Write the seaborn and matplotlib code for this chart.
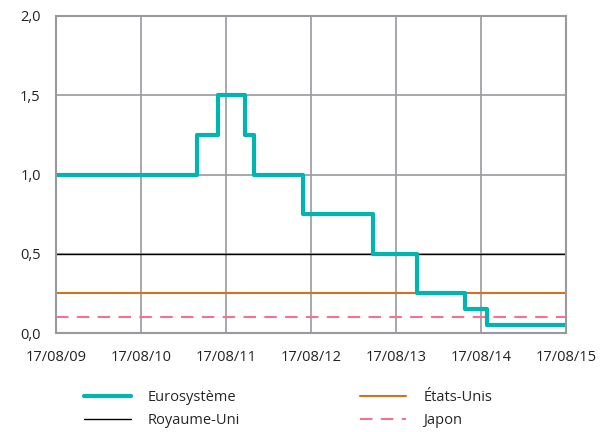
"""
Taux directeurs : Eurosystème, Royaume-Uni, États-Unis, Japon
"""

import matplotlib
matplotlib.use("Agg")
import matplotlib.pyplot as plt
import matplotlib.dates as mdates
from matplotlib.ticker import FuncFormatter, MultipleLocator
import pandas as pd
import seaborn as sns

# ==========================================================
# Data
# ==========================================================

euro_dates = [
    "2009-08-17", "2011-04-13", "2011-07-13", "2011-11-09", "2011-12-14",
    "2012-07-11", "2013-05-08", "2013-11-13", "2014-06-11", "2014-09-10",
    "2015-08-17",
]
euro_rates = [1.00, 1.25, 1.50, 1.25, 1.00, 0.75, 0.50, 0.25, 0.15, 0.05, 0.05]

flat_dates = ["2009-08-17", "2015-08-17"]
uk_rates = [0.50, 0.50]
us_rates = [0.25, 0.25]
jp_rates = [0.10, 0.10]

tick_dates = ["2009-08-17", "2010-08-17", "2011-08-17", "2012-08-17",
              "2013-08-17", "2014-08-17", "2015-08-17"]

# ==========================================================
# Style
# ==========================================================

sns.set_theme(style="white")
plt.rcParams["font.family"] = ["Open Sans", "DejaVu Sans"]

TEAL = "#00B4B0"
ORANGE = "#D2721E"
PINK = "#F07490"
GRID = "#9A9A9E"

# ==========================================================
# Plot
# ==========================================================

euro = pd.DataFrame({"date": pd.to_datetime(euro_dates), "taux": euro_rates})
flat = pd.DataFrame({
    "date": pd.to_datetime(flat_dates),
    "uk": uk_rates,
    "us": us_rates,
    "jp": jp_rates,
})

fig = plt.figure(figsize=(6.01, 4.32), dpi=100)
ax = fig.add_axes([0.0932, 0.229, 0.8486, 0.734])

sns.lineplot(data=flat, x="date", y="uk", ax=ax, color="black",
             linewidth=1.0, label="Royaume-Uni")
sns.lineplot(data=flat, x="date", y="us", ax=ax, color=ORANGE,
             linewidth=1.5, label="États-Unis")
sns.lineplot(data=flat, x="date", y="jp", ax=ax, color=PINK,
             linewidth=1.5, linestyle=(0, (6, 4)), label="Japon")
sns.lineplot(data=euro, x="date", y="taux", ax=ax, color=TEAL,
             linewidth=3, drawstyle="steps-post", label="Eurosystème")

ax.set_xlim(pd.Timestamp(flat_dates[0]), pd.Timestamp(flat_dates[1]))
ax.set_ylim(0, 2.0)
ax.yaxis.set_major_locator(MultipleLocator(0.5))
ax.yaxis.set_major_formatter(
    FuncFormatter(lambda v, _: f"{v:.1f}".replace(".", ","))
)
ax.set_xticks(pd.to_datetime(tick_dates))
ax.xaxis.set_major_formatter(mdates.DateFormatter("%d/%m/%y"))

ax.grid(True, color=GRID, linewidth=1.2)
ax.set_axisbelow(True)
for spine in ax.spines.values():
    spine.set_color(GRID)
    spine.set_linewidth(1.5)

ax.tick_params(axis="both", length=0, labelsize=10.5, colors="#222222")
ax.tick_params(axis="x", pad=12)
ax.tick_params(axis="y", pad=11)
ax.set_xlabel("")
ax.set_ylabel("")

# legend is filled column by column
handles, labels = ax.get_legend_handles_labels()
order = ["Eurosystème", "Royaume-Uni", "États-Unis", "Japon"]
hmap = dict(zip(labels, handles))
ax.legend(
    [hmap[k] for k in order], order,
    loc="upper left", bbox_to_anchor=(0.03, -0.138), ncol=2,
    frameon=False, fontsize=10.5, handlelength=3.2, handletextpad=1.15,
    columnspacing=8.2, labelspacing=0.58,
)

fig.savefig("out.png", dpi=100)
plt.close(fig)
